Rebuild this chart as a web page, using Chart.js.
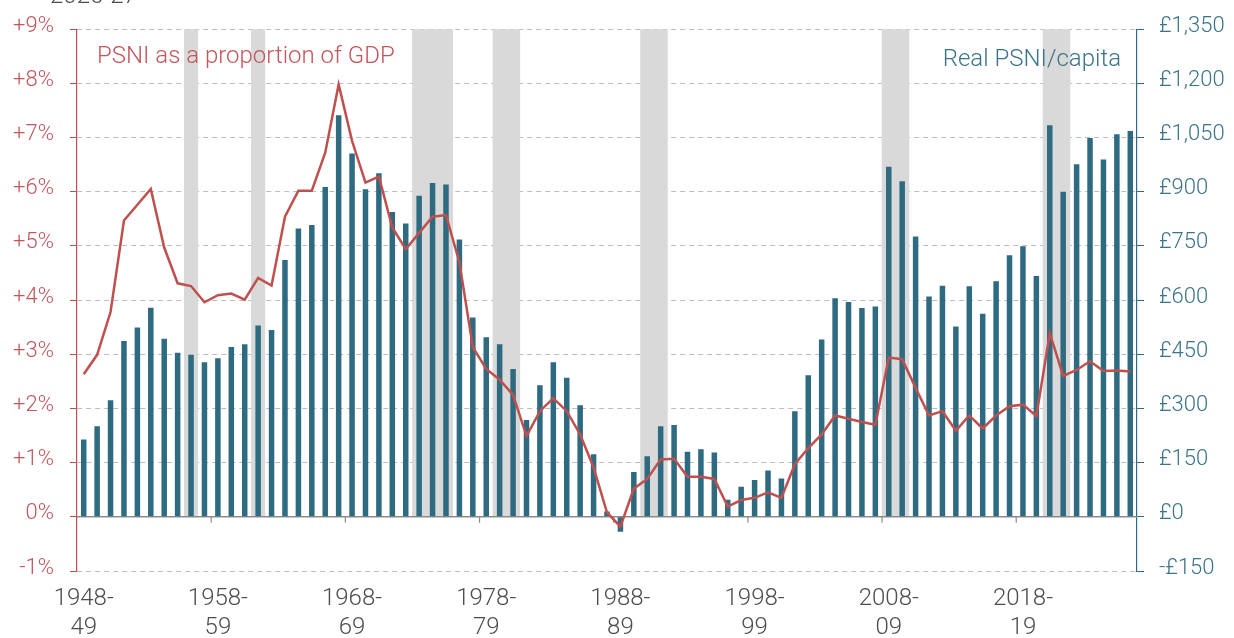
<!DOCTYPE html>
<html><head><meta charset="utf-8">
<script src="https://cdn.jsdelivr.net/npm/chart.js@4.4.0/dist/chart.umd.min.js"></script>
<style>html,body{margin:0;padding:0;background:#fff;overflow:hidden}#wrap{width:1234px;height:638px;position:relative}</style>
</head><body><div id="wrap"><canvas id="c" width="1234" height="638"></canvas></div>
<script>
// Fiscal years 1948-49 ... 2026-27
const firstYear = 1948, lastYear = 2026;
const categories = [];
for (let yr = firstYear; yr <= lastYear; yr++) {
  categories.push(yr + '-' + String((yr + 1) % 100).padStart(2, '0'));
}
// Real PSNI per capita (£, right axis)
const psniPerCapita = [214, 251, 323, 487, 524, 579, 493, 454, 449, 428,
  439, 470, 478, 530, 517, 711, 798, 808, 913, 1112,
  1006, 907, 951, 844, 812, 889, 924, 920, 768, 552,
  497, 478, 409, 268, 364, 428, 385, 309, 173, 15,
  -41, 124, 168, 251, 254, 180, 187, 178, 47, 83,
  102, 128, 106, 292, 392, 491, 605, 595, 578, 582,
  969, 929, 776, 610, 640, 527, 638, 562, 652, 724,
  749, 667, 1084, 900, 976, 1049, 989, 1059, 1068];
// PSNI as a proportion of GDP (%, left axis)
const psniShareGdp = [2.63, 2.99, 3.78, 5.47, 5.76, 6.05, 4.97, 4.31, 4.26, 3.96,
  4.09, 4.12, 4.01, 4.41, 4.27, 5.54, 6.02, 6.02, 6.72, 7.98,
  6.94, 6.17, 6.28, 5.34, 4.94, 5.24, 5.54, 5.57, 4.70, 3.13,
  2.73, 2.53, 2.25, 1.49, 1.95, 2.19, 1.95, 1.52, 0.91, 0.08,
  -0.18, 0.52, 0.70, 1.06, 1.07, 0.74, 0.74, 0.70, 0.19, 0.31,
  0.35, 0.45, 0.35, 0.97, 1.27, 1.52, 1.87, 1.81, 1.75, 1.70,
  2.94, 2.91, 2.38, 1.87, 1.95, 1.59, 1.87, 1.63, 1.87, 2.04,
  2.07, 1.86, 3.39, 2.60, 2.71, 2.87, 2.69, 2.70, 2.68];
// Recession years (shaded)
const recessionYears = ['1956-57', '1961-62', '1973-74', '1974-75', '1975-76', '1979-80', '1980-81',
  '1990-91', '1991-92', '2008-09', '2009-10', '2020-21', '2021-22'];
// Axis ranges / ticks
const leftMin = -1, leftMax = 9, leftStep = 1;
const rightMin = -150, rightMax = 1350, rightStep = 150;
const labelEvery = 10;
const titleTail = '2026-27';
const lineLabel = 'PSNI as a proportion of GDP';
const barLabel = 'Real PSNI/capita';

const RED = '#c0504d', RED_TXT = '#c4565c', TEAL = '#2e6a80', TEAL_TXT = '#3b7489', GREY_TXT = '#4d4d4d';
const bands = categories.map(c => recessionYears.includes(c) ? [0, leftMax] : null);

Chart.defaults.font.family = 'Roboto';
Chart.defaults.font.weight = '300';

const overlay = {
  id: 'overlay',
  afterDatasetDraw(chart, args) {
    if (args.index !== 2) return;
    const {ctx, chartArea: a, scales: {x, y}} = chart;
    const y0 = y.getPixelForValue(0);
    ctx.save();
    ctx.strokeStyle = '#8c8c8c';
    ctx.lineWidth = 1.5;
    ctx.beginPath(); ctx.moveTo(a.left, y0); ctx.lineTo(a.right, y0); ctx.stroke();
    ctx.lineWidth = 1.2;
    for (let i = labelEvery; i < categories.length; i += labelEvery) {
      const xb = (x.getPixelForValue(i - 1) + x.getPixelForValue(i)) / 2;
      ctx.beginPath(); ctx.moveTo(xb, y0); ctx.lineTo(xb, y0 + 6); ctx.stroke();
    }
    ctx.restore();
  },
  afterDraw(chart) {
    const {ctx, chartArea: a} = chart;
    ctx.save();
    ctx.font = '300 24px Roboto';
    ctx.textBaseline = 'alphabetic';
    ctx.fillStyle = RED_TXT;
    ctx.textAlign = 'left';
    ctx.fillText(lineLabel, a.left + 20, a.top + 34);
    ctx.fillStyle = TEAL_TXT;
    ctx.textAlign = 'right';
    ctx.fillText(barLabel, a.right - 16, a.top + 37);
    ctx.fillStyle = GREY_TXT;
    ctx.textAlign = 'left';
    ctx.font = '300 24px Roboto';
    ctx.fillText(titleTail, 50, 3);
    ctx.restore();
  }
};

new Chart(document.getElementById('c'), {
  data: {
    labels: categories,
    datasets: [
      {type: 'line', label: lineLabel, data: psniShareGdp, yAxisID: 'y', borderColor: RED, borderWidth: 2.5,
        pointRadius: 0, tension: 0, order: 1, fill: false},
      {type: 'bar', label: barLabel, data: psniPerCapita, yAxisID: 'y2', backgroundColor: TEAL,
        barPercentage: 0.41, categoryPercentage: 1, grouped: false, order: 2},
      {type: 'bar', label: 'Recession', data: bands, yAxisID: 'y', backgroundColor: '#d9d9d9',
        barPercentage: 1, categoryPercentage: 1, grouped: false, order: 3}
    ]
  },
  options: {
    responsive: false, animation: false, devicePixelRatio: 1,
    layout: {padding: {top: 27, left: 0, right: 0, bottom: 0}},
    plugins: {legend: {display: false}, tooltip: {enabled: false}, title: {display: false}},
    scales: {
      x: {
        type: 'category', offset: true,
        grid: {display: false, drawTicks: false},
        border: {display: false},
        ticks: {
          autoSkip: false, maxRotation: 0, minRotation: 0, padding: 14, color: GREY_TXT,
          font: {size: 24, lineHeight: 1.2},
          callback: function (v, i) {
            if (i % labelEvery !== 0) return '';
            const l = categories[i];
            return [l.slice(0, 5), l.slice(5)];
          }
        },
        afterFit(s) { s.height = 67; }
      },
      y: {
        position: 'left', min: leftMin, max: leftMax,
        ticks: {stepSize: leftStep, color: RED_TXT, font: {size: 22}, padding: 16, labelOffset: -3,
          callback: v => (v > 0 ? '+' : '') + v + '%'},
        grid: {color: '#bdbdbd', lineWidth: 1, tickColor: RED, tickLength: 7, drawOnChartArea: true},
        border: {display: true, color: RED, width: 1.2, dash: [5, 4]},
        afterFit(s) { s.width = 77; }
      },
      y2: {
        position: 'right', min: rightMin, max: rightMax,
        ticks: {stepSize: rightStep, color: TEAL_TXT, font: {size: 22}, padding: 15, labelOffset: -3,
          callback: v => (v < 0 ? '-£' : '£') + Math.abs(v).toLocaleString('en-GB')},
        grid: {drawOnChartArea: false, tickColor: TEAL, tickLength: 7},
        border: {display: true, color: TEAL, width: 1.2},
        afterFit(s) { s.width = 97; }
      }
    }
  },
  plugins: [overlay]
});
</script></body></html>
